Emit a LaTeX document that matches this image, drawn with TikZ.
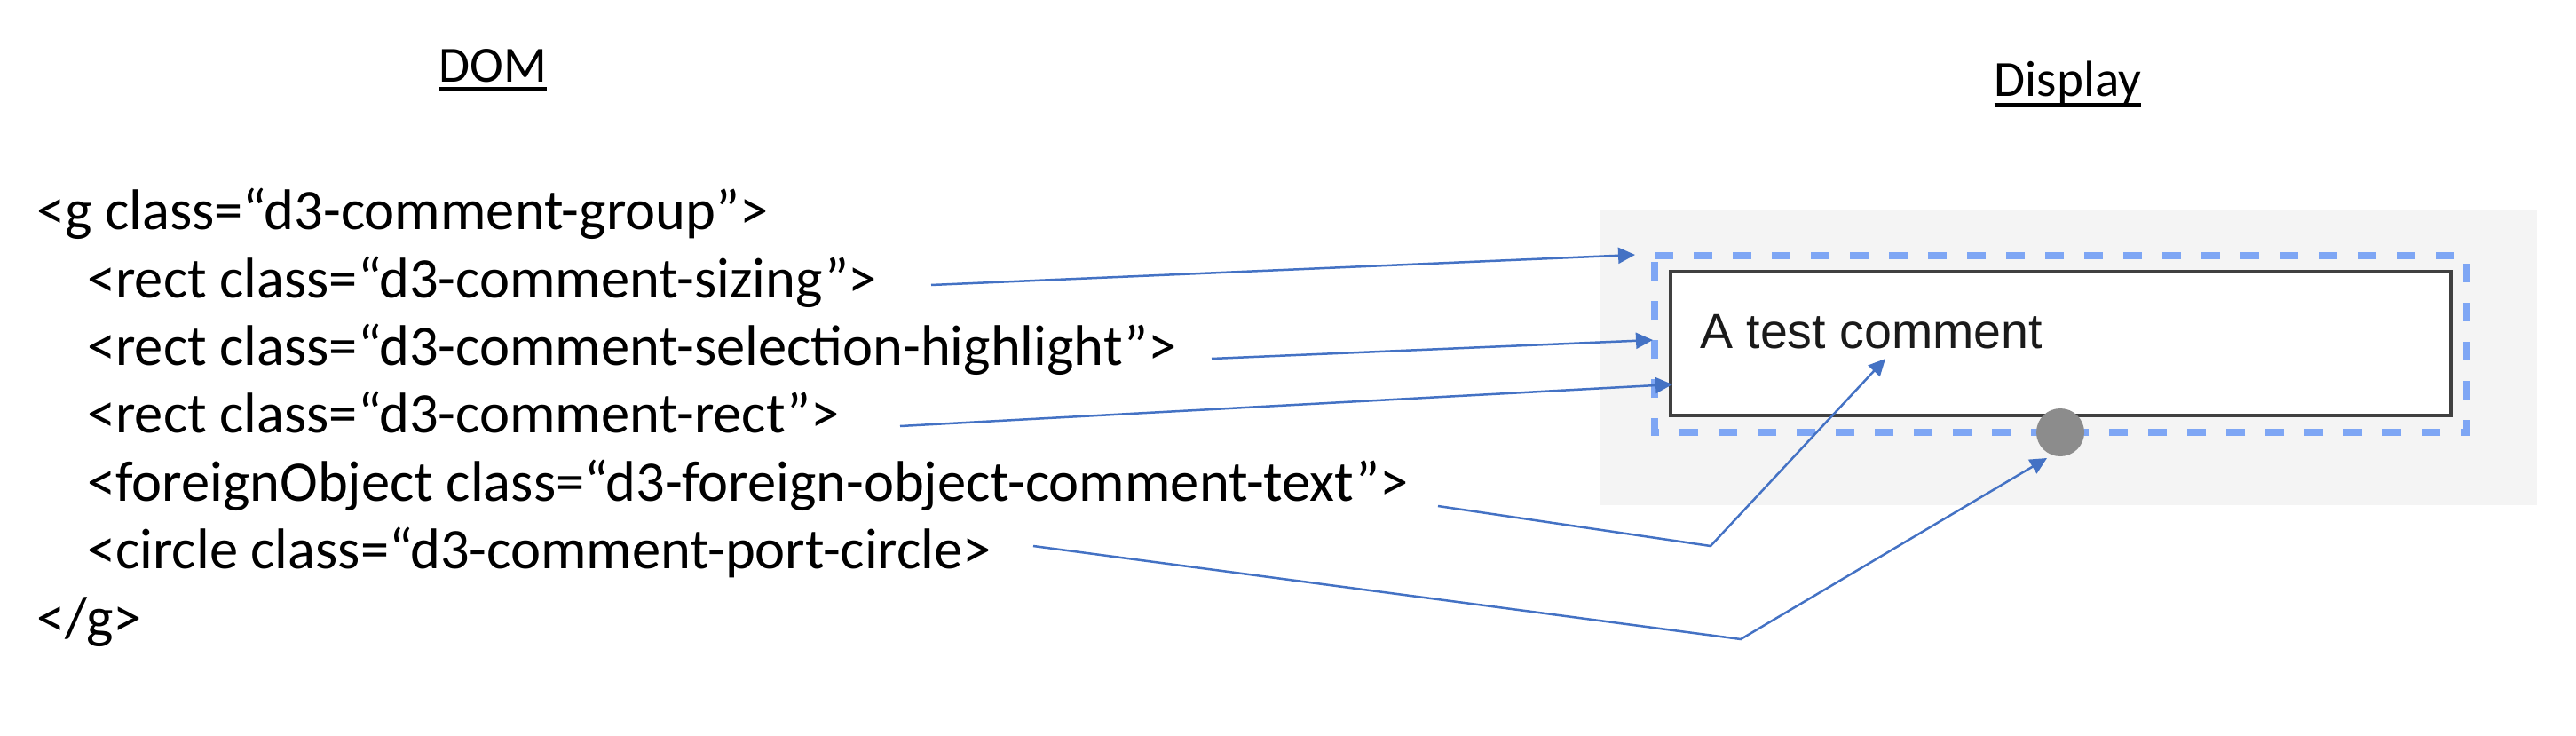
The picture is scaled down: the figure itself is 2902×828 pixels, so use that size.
\documentclass[tikz,border=0pt]{standalone}
\usepackage{fontspec}
\setmainfont{Carlito}
\newfontfamily\arialfont{Liberation Sans}
\usetikzlibrary{arrows.meta}
\definecolor{arrowblue}{HTML}{4472C4}
\definecolor{dashblue}{HTML}{7EA6F4}
\definecolor{bggray}{HTML}{F4F4F4}
\definecolor{rectgray}{HTML}{404040}
\definecolor{portgray}{HTML}{8C8C8C}
\definecolor{commenttext}{HTML}{1A1A1A}
\begin{document}
\begin{tikzpicture}[x=1pt,y=-1pt,
  code/.style={anchor=base west, inner sep=0pt, font=\fontsize{64.5}{77}\selectfont},
  heading/.style={anchor=base, inner sep=0pt, font=\fontsize{57}{68}\selectfont},
  uline/.style={line width=4pt},
  conn/.style={draw=arrowblue, line width=2.5pt, -{Triangle[length=19pt,width=18pt]}},
  hilite/.style={draw=dashblue, line width=8pt, dash pattern=on 21pt off 23pt},
  commentbox/.style={draw=rectgray, line width=3.5pt, fill=white},
  port/.style={fill=portgray, draw=none}]
\useasboundingbox (0,0) rectangle (2902,828);

% headings
\node[heading] (dom) at (555.5,92) {DOM};
\draw[uline] ([yshift=-7.5pt]dom.base west) -- ([yshift=-7.5pt]dom.base east);
\node[heading] (disp) at (2329.5,108) {Display};
\draw[uline] ([yshift=-10pt]disp.base west) -- ([yshift=-10pt]disp.base east);

% DOM lines
\node[code] (l1) at (41,258.6) {<g class=“d3-comment-group”>};
\node[code] (l2) at (98,335) {<rect class=“d3-comment-sizing”>};
\node[code] (l3) at (98,411.4) {<rect class=“d3-comment-selection-highlight”>};
\node[code] (l4) at (98,487.8) {<rect class=“d3-comment-rect”>};
\node[code] (l5) at (98,564.2) {<foreignObject class=“d3-foreign-object-comment-text”>};
\node[code] (l6) at (98,640.6) {<circle class=“d3-comment-port-circle>};
\node[code] (l7) at (41,717) {</g>};

% display
\fill[bggray] (1802,236) rectangle (2858,569);
\draw[hilite] (1864,288) -- (2779,288) -- (2779,487) -- (1864,487) -- cycle;
\draw[commentbox] (1882,306) rectangle (2761,468);
\node[anchor=base west, inner sep=0pt, text=commenttext, font=\arialfont\fontsize{55.5}{66}\selectfont] (ctext) at (1915,392) {A test comment};
\fill[port] (2321,487) circle[radius=27];

% connector end points
\coordinate (s1) at (1049,321);
\coordinate (t1) at (1842,287);
\coordinate (s2) at (1365,404);
\coordinate (t2) at (1862,383);
\coordinate (s3) at (1014,480);
\coordinate (t3) at (1884,433);
\coordinate (s4) at (1620,570);
\coordinate (k4) at (1927,615);
\coordinate (t4) at (2124,404);
\coordinate (s5) at (1164,615);
\coordinate (k5) at (1961,720);
\coordinate (t5) at (2306,516);

\draw[conn] (s1) -- (t1);
\draw[conn] (s2) -- (t2);
\draw[conn] (s3) -- (t3);
\draw[conn] (s4) -- (k4) -- (t4);
\draw[conn] (s5) -- (k5) -- (t5);
\end{tikzpicture}
\end{document}
